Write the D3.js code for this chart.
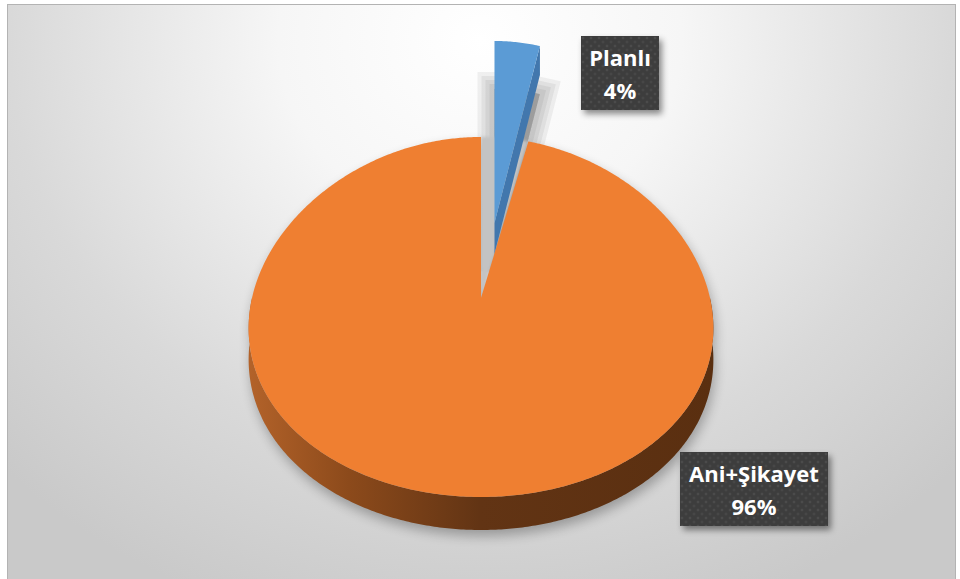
<!DOCTYPE html>
<html>
<head>
<meta charset="utf-8">
<script src="https://cdn.jsdelivr.net/npm/d3@7"></script>
<style>
  html, body { margin: 0; padding: 0; background: #ffffff; }
  svg { display: block; }
</style>
</head>
<body>
<svg id="chart" width="960" height="579"></svg>
<script>
// Slice data
const categories = ["Planlı", "Ani+Şikayet"];
const values = [4, 96];
const sliceColors = ["#5b9bd5", "#ef7f31"];
const sideColors = ["#4277ad", null];      // cut-face colour of each slice
const exploded = [true, false];             // pulled-out slices

const svg = d3.select("#chart");
const defs = svg.append("defs");

// ---- background -------------------------------------------------------
const bg = defs.append("radialGradient").attr("id", "bgGrad")
  .attr("gradientUnits", "userSpaceOnUse")
  .attr("cx", 480).attr("cy", 40).attr("r", 640)
  .attr("gradientTransform", "translate(480,40) scale(1.05,0.95) translate(-480,-40)");
bg.append("stop").attr("offset", 0).attr("stop-color", "#ffffff");
bg.append("stop").attr("offset", 0.3).attr("stop-color", "#f6f6f6");
bg.append("stop").attr("offset", 0.7).attr("stop-color", "#d9d9d9");
bg.append("stop").attr("offset", 1).attr("stop-color", "#c9c9c9");

svg.append("rect")
  .attr("x", 7.5).attr("y", 4.5).attr("width", 948).attr("height", 590)
  .attr("fill", "url(#bgGrad)").attr("stroke", "#b3b3b3").attr("stroke-width", 1);

// ---- filters ----------------------------------------------------------
const fShadow = defs.append("filter").attr("id", "softShadow")
  .attr("x", "-30%").attr("y", "-30%").attr("width", "160%").attr("height", "160%");
fShadow.append("feGaussianBlur").attr("stdDeviation", 6);

const fHole = defs.append("filter").attr("id", "holeBlur")
  .attr("x", "-50%").attr("y", "-50%").attr("width", "200%").attr("height", "200%");
fHole.append("feGaussianBlur").attr("stdDeviation", 1.5);

const fLabel = defs.append("filter").attr("id", "labelShadow")
  .attr("x", "-20%").attr("y", "-20%").attr("width", "150%").attr("height", "160%");
fLabel.append("feDropShadow").attr("dx", 3).attr("dy", 4)
  .attr("stdDeviation", 3).attr("flood-color", "#000").attr("flood-opacity", 0.45);

// side shading of the orange rim
const sideGrad = defs.append("linearGradient").attr("id", "rimGrad")
  .attr("gradientUnits", "userSpaceOnUse")
  .attr("x1", 246).attr("y1", 0).attr("x2", 714).attr("y2", 0);
[[0, "#b4632a"], [0.22, "#8c4a1b"], [0.5, "#623414"], [1, "#5a2f10"]]
  .forEach(([o, c]) => sideGrad.append("stop").attr("offset", o).attr("stop-color", c));

// dotted label fill
const pat = defs.append("pattern").attr("id", "dots")
  .attr("patternUnits", "userSpaceOnUse").attr("width", 8).attr("height", 8);
pat.append("rect").attr("width", 8).attr("height", 8).attr("fill", "#3d3d3d");
pat.append("circle").attr("cx", 2).attr("cy", 2).attr("r", 1.3).attr("fill", "#4c4c4c");
pat.append("circle").attr("cx", 6).attr("cy", 6).attr("r", 1.3).attr("fill", "#474747");

// ---- 3D projection of the pie ------------------------------------------
const cx = 481, cy = 298;
// horizontal radius shrinks towards the far side (z = +1) and grows at the front
const rx = d3.scaleLinear().domain([-1, 1]).range([269, 189]);
// vertical extent: far half 161px, near half 199px
const ryFar = 161, ryNear = 199;
const ry = z => z * ((ryFar + ryNear) / 2 - (ryNear - ryFar) / 2 * z);
// rim thickness
const thick = d3.scaleLinear().domain([-1, 1]).range([33, 29]);

const pie = d3.pie().sort(null).startAngle(0).endAngle(2 * Math.PI);
const arcs = pie(values);

// pulled-out slice offset and its own scale
const explodeDist = 0.47;
function sliceFrame(d, i) {
  if (!exploded[i]) return { ox: 0, oy: 0, sx: 1, sy: 1 };
  const mid = (d.startAngle + d.endAngle) / 2;
  return {
    ox: Math.sin(mid) * explodeDist * rx(0),
    oy: -Math.cos(mid) * explodeDist * ryFar,
    sx: 0.96, sy: 1.13
  };
}

function project(theta, r, bottom, fr) {
  const x = r * Math.sin(theta), z = r * Math.cos(theta);
  const px = cx + fr.ox + x * rx(z) * fr.sx;
  let py = cy + fr.oy - ry(z) * fr.sy;
  if (bottom) py += thick(z);
  return [px, py];
}

function arcPoints(a0, a1, bottom, fr) {
  const n = Math.max(2, Math.ceil(Math.abs(a1 - a0) / 0.01));
  return d3.range(n + 1).map(k => project(a0 + (a1 - a0) * k / n, 1, bottom, fr));
}

const line = d3.line();

function topFace(d, fr) {
  return line([project(0, 0, false, fr), ...arcPoints(d.startAngle, d.endAngle, false, fr)]) + "Z";
}
function rimFace(d, fr) {
  const a0 = Math.max(d.startAngle, Math.PI / 2), a1 = Math.min(d.endAngle, 3 * Math.PI / 2);
  if (a1 <= a0) return null;
  return line([...arcPoints(a0, a1, false, fr), ...arcPoints(a0, a1, true, fr).reverse()]) + "Z";
}
// radial cut face at the end angle (faces the viewer for slices on the right)
function endCut(d, fr) {
  const a = d.endAngle;
  return line([
    project(a, 0, false, fr), project(a, 1, false, fr),
    project(a, 1, true, fr), project(a, 0, true, fr)
  ]) + "Z";
}

const frames = arcs.map((d, i) => sliceFrame(d, i));

// ---- shadows ------------------------------------------------------------
const shadowG = svg.append("g");
// shadow of the whole orange body
arcs.forEach((d, i) => {
  if (exploded[i]) return;
  const fr = { ...frames[i], oy: frames[i].oy + 6, ox: frames[i].ox + 2 };
  const g = shadowG.append("g").attr("filter", "url(#softShadow)").attr("opacity", 0.28);
  g.append("path").attr("d", topFace(d, fr)).attr("fill", "#000");
  g.append("path").attr("d", rimFace(d, fr)).attr("fill", "#000");
});
// shadow cast behind the pulled-out slice: stacked translucent outlines give a soft edge
arcs.forEach((d, i) => {
  if (!exploded[i]) return;
  const fr = { ...frames[i], oy: frames[i].oy + 48 };
  const p = topFace(d, fr);
  [34, 26, 18, 10].forEach(w => {
    shadowG.append("path").attr("d", p)
      .attr("fill", "#000").attr("fill-opacity", 0.055)
      .attr("stroke", "#000").attr("stroke-opacity", 0.055)
      .attr("stroke-width", w).attr("stroke-linejoin", "miter");
  });
  // the gap left in the main body
  shadowG.append("path").attr("d", topFace(d, { ox: 0, oy: 0, sx: 1, sy: 1 }))
    .attr("fill", "#c3c3c3").attr("filter", "url(#holeBlur)");
});

// ---- slices: pulled-out (far) slice first, then the main body ------------
const pieG = svg.append("g");
arcs.forEach((d, i) => {
  if (!exploded[i]) return;
  const fr = frames[i];
  pieG.append("path").attr("d", endCut(d, fr)).attr("fill", sideColors[i]);
  pieG.append("path").attr("d", topFace(d, fr)).attr("fill", sliceColors[i]);
});
arcs.forEach((d, i) => {
  if (exploded[i]) return;
  const fr = frames[i];
  const rim = rimFace(d, fr);
  if (rim) pieG.append("path").attr("d", rim).attr("fill", "url(#rimGrad)");
  pieG.append("path").attr("d", topFace(d, fr)).attr("fill", sliceColors[i]);
});

// ---- data labels ---------------------------------------------------------
const total = d3.sum(values);
const pct = d3.format(".0%");
const labelBoxes = [
  { x: 581, y: 36, w: 78, h: 74 },
  { x: 680, y: 452, w: 148, h: 74 }
];
arcs.forEach((d, i) => {
  const b = labelBoxes[i];
  const g = svg.append("g").attr("transform", `translate(${b.x},${b.y})`);
  g.append("rect").attr("width", b.w).attr("height", b.h)
    .attr("fill", "url(#dots)").attr("filter", "url(#labelShadow)");
  const t = g.append("text").attr("text-anchor", "middle")
    .attr("font-family", "'Open Sans', 'DejaVu Sans', sans-serif")
    .attr("font-weight", 700).attr("font-size", 22).attr("fill", "#ffffff");
  t.append("tspan").attr("x", b.w / 2).attr("y", 29.5).text(categories[i]);
  t.append("tspan").attr("x", b.w / 2).attr("y", 63).text(pct(values[i] / total));
});
</script>
</body>
</html>
